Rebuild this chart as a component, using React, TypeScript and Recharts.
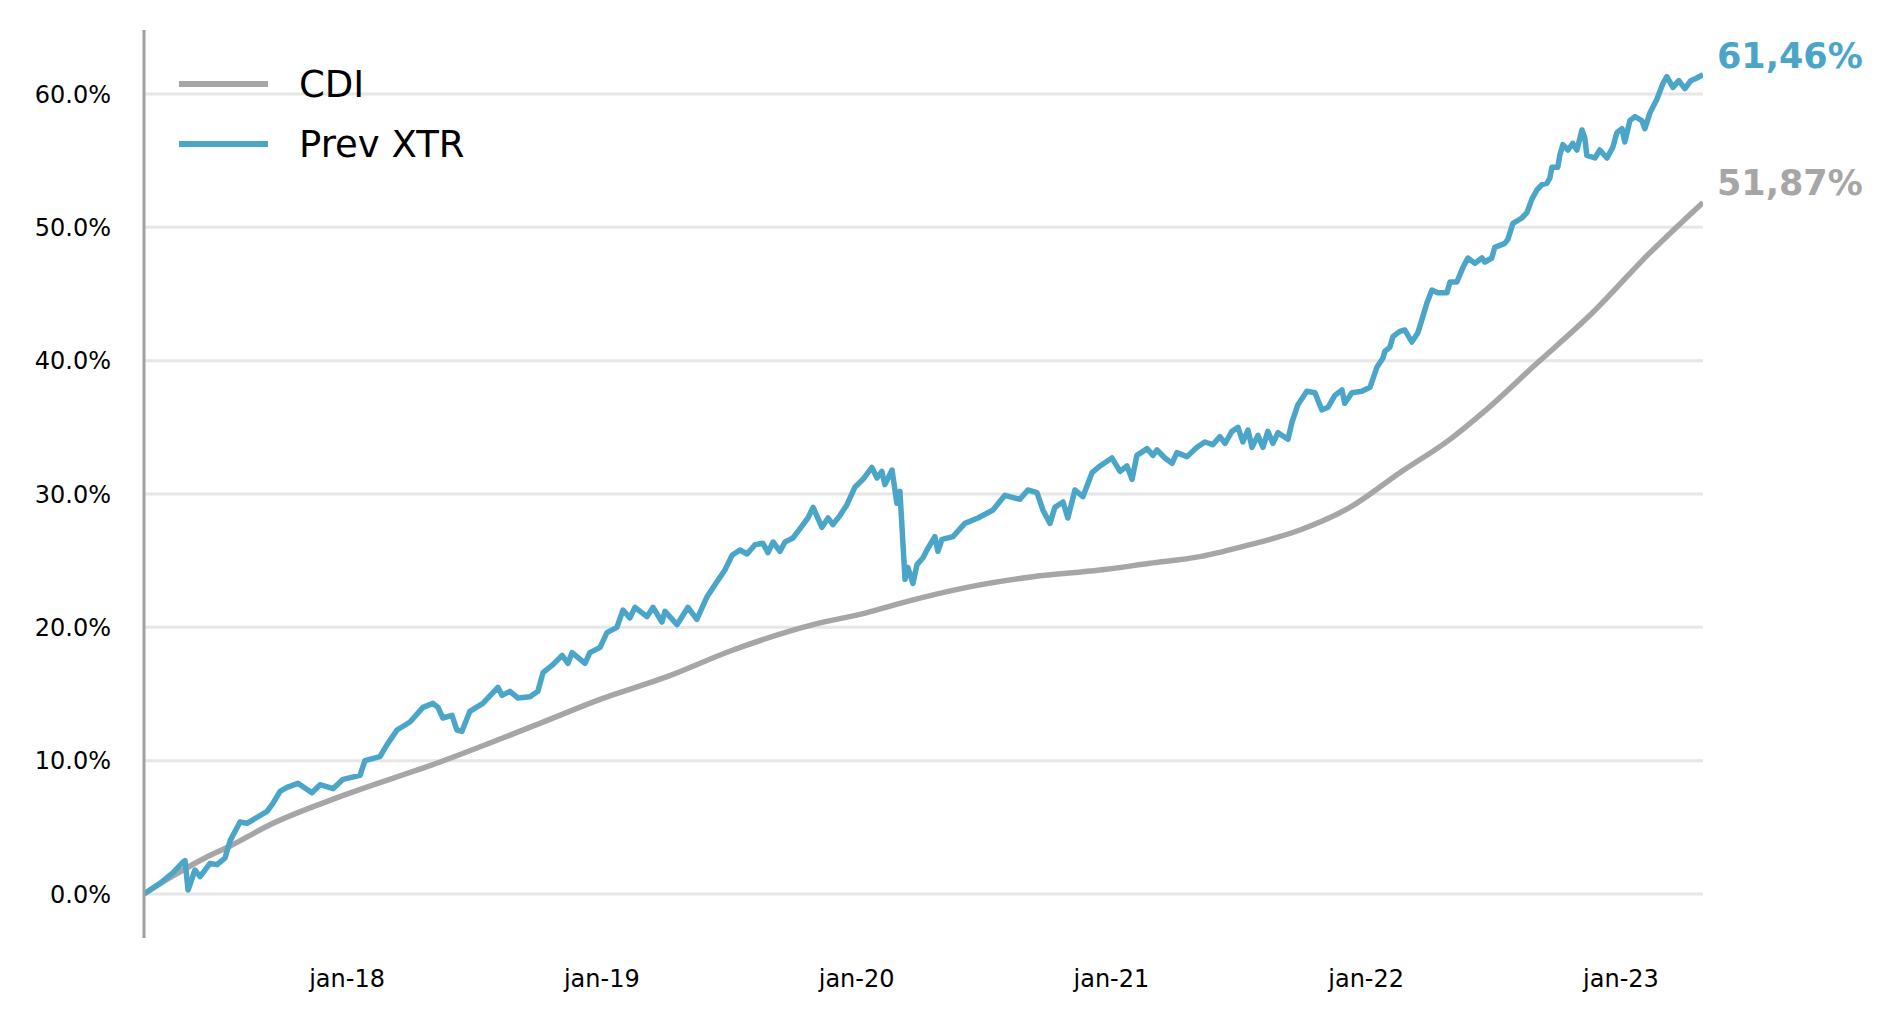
import React from "react";
import { LineChart, Line, XAxis, YAxis, CartesianGrid, Legend } from "recharts";

// time in fractional years, values in %
const xtrDates = [
  2017.203, 2017.266, 2017.317, 2017.356, 2017.364, 2017.376, 2017.403, 2017.423, 2017.462, 2017.49,
  2017.521, 2017.541, 2017.58, 2017.607, 2017.686, 2017.709, 2017.737, 2017.764, 2017.807, 2017.862,
  2017.894, 2017.945, 2017.984, 2018.051, 2018.07, 2018.129, 2018.157, 2018.196, 2018.247, 2018.298,
  2018.337, 2018.357, 2018.376, 2018.412, 2018.431, 2018.451, 2018.482, 2018.533, 2018.592, 2018.608,
  2018.639, 2018.671, 2018.718, 2018.749, 2018.769, 2018.808, 2018.844, 2018.867, 2018.883, 2018.934,
  2018.953, 2018.993, 2019.02, 2019.059, 2019.083, 2019.11, 2019.13, 2019.177, 2019.201, 2019.236,
  2019.248, 2019.295, 2019.338, 2019.373, 2019.413, 2019.444, 2019.483, 2019.511, 2019.542, 2019.57,
  2019.601, 2019.632, 2019.652, 2019.672, 2019.699, 2019.719, 2019.75, 2019.778, 2019.809, 2019.829,
  2019.864, 2019.888, 2019.907, 2019.935, 2019.962, 2019.993, 2020.025, 2020.06, 2020.08, 2020.099,
  2020.111, 2020.139, 2020.158, 2020.17, 2020.19, 2020.201, 2020.221, 2020.237, 2020.26, 2020.276,
  2020.307, 2020.319, 2020.335, 2020.378, 2020.425, 2020.476, 2020.535, 2020.582, 2020.641, 2020.672,
  2020.708, 2020.731, 2020.759, 2020.778, 2020.81, 2020.829, 2020.857, 2020.888, 2020.924, 2020.955,
  2021.002, 2021.034, 2021.061, 2021.081, 2021.1, 2021.14, 2021.163, 2021.179, 2021.21, 2021.238,
  2021.257, 2021.296, 2021.336, 2021.367, 2021.398, 2021.426, 2021.446, 2021.473, 2021.497, 2021.516,
  2021.536, 2021.552, 2021.575, 2021.595, 2021.614, 2021.634, 2021.654, 2021.693, 2021.709, 2021.732,
  2021.767, 2021.799, 2021.826, 2021.85, 2021.877, 2021.905, 2021.916, 2021.944, 2021.983, 2022.015,
  2022.042, 2022.066, 2022.073, 2022.093, 2022.105, 2022.132, 2022.152, 2022.179, 2022.203, 2022.219,
  2022.238, 2022.258, 2022.281, 2022.317, 2022.329, 2022.356, 2022.38, 2022.399, 2022.427, 2022.454,
  2022.466, 2022.493, 2022.505, 2022.544, 2022.556, 2022.576, 2022.611, 2022.631, 2022.65, 2022.67,
  2022.69, 2022.709, 2022.721, 2022.729, 2022.752, 2022.76, 2022.772, 2022.792, 2022.811, 2022.827,
  2022.847, 2022.858, 2022.866, 2022.898, 2022.917, 2022.945, 2022.968, 2022.984, 2023.004, 2023.015,
  2023.035, 2023.055, 2023.082, 2023.094, 2023.114, 2023.141, 2023.165, 2023.18, 2023.204, 2023.227,
  2023.251, 2023.274, 2023.298, 2023.322,
];
const xtrValues = [
  0.0, 0.8, 1.6, 2.4, 2.5, 0.3, 1.8, 1.3, 2.3, 2.2,
  2.7, 4.0, 5.4, 5.3, 6.2, 6.8, 7.7, 8.0, 8.3, 7.6,
  8.2, 7.9, 8.6, 8.9, 10.0, 10.3, 11.2, 12.3, 12.9, 14.0,
  14.3, 14.0, 13.2, 13.4, 12.3, 12.2, 13.7, 14.3, 15.5, 14.9,
  15.2, 14.7, 14.8, 15.2, 16.6, 17.2, 17.9, 17.3, 18.1, 17.3,
  18.1, 18.5, 19.6, 20.0, 21.3, 20.7, 21.5, 20.8, 21.5, 20.4,
  21.2, 20.2, 21.5, 20.6, 22.3, 23.2, 24.3, 25.4, 25.8, 25.5,
  26.2, 26.3, 25.6, 26.4, 25.7, 26.4, 26.7, 27.4, 28.2, 29.0,
  27.5, 28.2, 27.7, 28.4, 29.2, 30.5, 31.1, 32.0, 31.2, 31.7,
  30.7, 31.8, 29.3, 30.2, 23.6, 24.5, 23.3, 24.7, 25.2, 25.8,
  26.8, 25.7, 26.6, 26.8, 27.8, 28.2, 28.8, 29.9, 29.6, 30.3,
  30.1, 28.8, 27.8, 29.0, 29.4, 28.2, 30.3, 29.8, 31.6, 32.1,
  32.7, 31.7, 32.1, 31.1, 32.9, 33.4, 32.9, 33.3, 32.7, 32.3,
  33.1, 32.8, 33.5, 33.9, 33.7, 34.3, 33.8, 34.7, 35.0, 33.9,
  34.8, 33.5, 34.4, 33.5, 34.7, 33.8, 34.6, 34.1, 35.4, 36.7,
  37.7, 37.6, 36.3, 36.5, 37.4, 37.8, 36.8, 37.6, 37.7, 38.0,
  39.5, 40.2, 40.7, 41.0, 41.8, 42.2, 42.3, 41.4, 42.1, 43.1,
  44.3, 45.3, 45.1, 45.1, 45.9, 45.9, 47.0, 47.7, 47.3, 47.7,
  47.4, 47.7, 48.5, 48.8, 49.1, 50.3, 50.7, 51.1, 52.1, 52.8,
  53.2, 53.3, 53.7, 54.5, 54.5, 55.4, 56.2, 55.8, 56.3, 55.8,
  57.3, 56.7, 55.4, 55.2, 55.8, 55.2, 56.0, 57.1, 57.4, 56.4,
  58.0, 58.3, 58.0, 57.4, 58.6, 59.6, 60.8, 61.3, 60.5, 61.0,
  60.4, 61.0, 61.2, 61.46,
];

const cdiDates = [
  2017.203, 2017.285, 2017.356, 2017.442, 2017.541, 2017.709, 2017.972, 2018.365, 2018.757, 2018.993,
  2019.256, 2019.515, 2019.829, 2020.041, 2020.17, 2020.433, 2020.692, 2020.955, 2021.151, 2021.347,
  2021.544, 2021.74, 2021.936, 2022.132, 2022.329, 2022.458, 2022.67, 2022.878, 2023.114, 2023.322,
];
const cdiValues = [
  0.0, 1.0, 1.8, 2.7, 3.6, 5.3, 7.3, 9.9, 12.8, 14.6,
  16.3, 18.3, 20.2, 21.1, 21.8, 23.0, 23.8, 24.3, 24.8, 25.3,
  26.2, 27.3, 29.0, 31.6, 34.1, 36.1, 39.8, 43.4, 48.1, 51.87,
];

const yTicks = [0, 10, 20, 30, 40, 50, 60];
const xTicks = [2018, 2019, 2020, 2021, 2022, 2023];
const xTickLabels = ["jan-18", "jan-19", "jan-20", "jan-21", "jan-22", "jan-23"];

const seriesNames = ["CDI", "Prev XTR"];
const BLUE = "#4ba5c9";
const GRAY = "#a6a6a6";
const FONT = "DejaVu Sans, Verdana, sans-serif";

const xtrData = xtrDates.map((t, i) => ({ t, v: xtrValues[i] }));
const cdiData = cdiDates.map((t, i) => ({ t, v: cdiValues[i] }));

function endLabel(color: string, last: number) {
  return (props: any) => {
    if (props.index !== last) return null;
    const txt = Number(props.value).toFixed(2).replace(".", ",") + "%";
    return (
      <text
        x={props.x + 14}
        y={props.y - 7}
        fill={color}
        fontFamily={FONT}
        fontWeight="bold"
        fontSize={35}
      >
        {txt}
      </text>
    );
  };
}

function LegendBox() {
  const rows = [
    { name: seriesNames[0], color: GRAY, y: 84 },
    { name: seriesNames[1], color: BLUE, y: 144 },
  ];
  return (
    <svg width={500} height={200} style={{ display: "block" }}>
      {rows.map((r) => (
        <g key={r.name}>
          <line x1={179} x2={268} y1={r.y} y2={r.y} stroke={r.color} strokeWidth={6} />
          <text x={299} y={r.y + 13} fontFamily={FONT} fontSize={37} fill="#000">
            {r.name}
          </text>
        </g>
      ))}
    </svg>
  );
}

export default function App() {
  return (
    <div style={{ position: "absolute", left: 0, top: 0, background: "#fff", fontFamily: FONT }}>
      <LineChart
        width={1897}
        height={1023}
        margin={{ top: 30, right: 194, bottom: 25, left: 0 }}
      >
        <CartesianGrid vertical={false} stroke="#e6e6e6" strokeWidth={3} syncWithTicks />
        <XAxis
          type="number"
          dataKey="t"
          domain={[2017.203, 2023.322]}
          allowDataOverflow
          ticks={xTicks}
          tickFormatter={(t: number) => xTickLabels[xTicks.indexOf(t)] ?? ""}
          axisLine={false}
          tickLine={false}
          tickSize={0}
          tickMargin={32}
          height={60}
          interval={0}
          tick={{ fontSize: 24, fill: "#000", fontFamily: FONT }}
        />
        <YAxis
          type="number"
          domain={[-3.3, 64.8]}
          allowDataOverflow
          ticks={yTicks}
          tickFormatter={(v: number) => v.toFixed(1) + "%"}
          width={144}
          axisLine={{ stroke: "#a0a0a0", strokeWidth: 3 }}
          tickLine={false}
          tickSize={0}
          tickMargin={33}
          interval={0}
          tick={{ fontSize: 24, fill: "#000", fontFamily: FONT }}
        />
        <Legend
          layout="vertical"
          align="center"
          verticalAlign="middle"
          wrapperStyle={{ left: 0, top: 0, width: 500, height: 200 }}
          content={() => <LegendBox />}
        />
        <Line
          data={cdiData}
          dataKey="v"
          name={seriesNames[0]}
          type="monotone"
          stroke={GRAY}
          strokeWidth={5.5}
          dot={false}
          activeDot={false}
          isAnimationActive={false}
          label={endLabel(GRAY, cdiData.length - 1)}
        />
        <Line
          data={xtrData}
          dataKey="v"
          name={seriesNames[1]}
          type="linear"
          stroke={BLUE}
          strokeWidth={5.5}
          strokeLinejoin="round"
          dot={false}
          activeDot={false}
          isAnimationActive={false}
          label={endLabel(BLUE, xtrData.length - 1)}
        />
      </LineChart>
    </div>
  );
}
